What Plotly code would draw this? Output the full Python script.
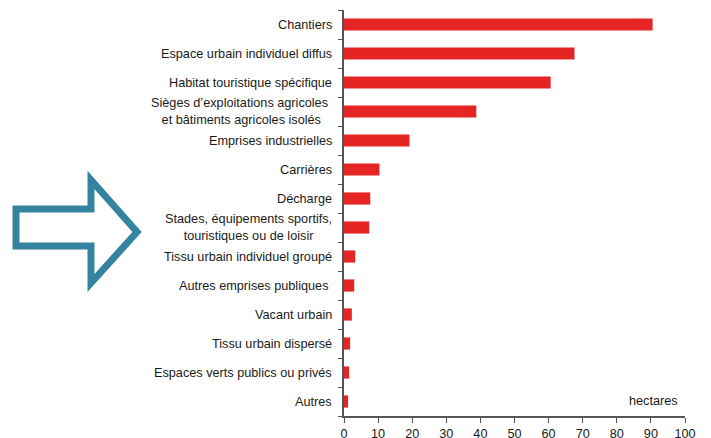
import plotly.graph_objects as go

categories = [
    "Chantiers",
    "Espace urbain individuel diffus",
    "Habitat touristique spécifique",
    "Sièges d’exploitations agricoles <br>et bâtiments agricoles isolés",
    "Emprises industrielles",
    "Carrières",
    "Décharge",
    "Stades, équipements sportifs,<br>touristiques ou de loisir",
    "Tissu urbain individuel groupé",
    "Autres emprises publiques ",
    "Vacant urbain",
    "Tissu urbain dispersé",
    "Espaces verts publics ou privés",
    "Autres",
]
values = [90.5, 67.6, 60.6, 38.8, 19.2, 10.4, 7.7, 7.4, 3.3, 3.0, 2.3, 1.8, 1.5, 1.2]
x_ticks = [0, 10, 20, 30, 40, 50, 60, 70, 80, 90, 100]
unit_label = "hectares"

W, H = 711, 438
OFF = 8  # page body margin offset
ML, MT = 344 - OFF, 10 - OFF
PW, PH = 341, 406
MR = W - ML - PW
MB = H - MT - PH

def px(x):
    return (x - OFF - ML) / PW

def py(y):
    return (MT + PH - (y - OFF)) / PH

FONT = "Liberation Sans, Arial, sans-serif"
FS = 12.7

fig = go.Figure()
fig.add_trace(go.Bar(
    y=categories, x=values, orientation="h",
    marker=dict(color="#e42524", line=dict(width=0)),
    width=0.42,
))

annotations = []
for c in categories:
    annotations.append(dict(
        x=0, xref="paper", y=c, yref="y", text=c, showarrow=False,
        xanchor="right", align="center", xshift=-10,
        font=dict(family=FONT, size=FS, color="#1a1a1a"),
    ))
annotations.append(dict(
    x=98.6, xref="x", y=categories[-1], yref="y", text=unit_label,
    showarrow=False, xanchor="right", yanchor="middle", yshift=1,
    font=dict(family=FONT, size=FS, color="#1a1a1a"),
))

arrow_pts = [(16, 209), (91, 209), (91, 180), (137, 232), (91, 283), (91, 246), (16, 246)]
path = "M " + " L ".join(f"{px(x):.5f},{py(y):.5f}" for x, y in arrow_pts) + " Z"

fig.update_layout(
    width=W, height=H,
    margin=dict(l=ML, r=MR, t=MT, b=MB, pad=0),
    paper_bgcolor="white", plot_bgcolor="white",
    showlegend=False,
    font=dict(family=FONT, size=FS, color="#1a1a1a"),
    annotations=annotations,
    shapes=[dict(type="path", xref="paper", yref="paper", path=path,
                 line=dict(color="#3483a0", width=7), fillcolor="rgba(0,0,0,0)",
                 layer="above")],
    xaxis=dict(range=[0, 100], tickvals=x_ticks, showgrid=False, zeroline=False,
               showline=True, linecolor="#555", linewidth=1.5,
               ticks="outside", ticklen=5, tickcolor="#555", tickwidth=1.2,
               tickfont=dict(size=FS, color="#1a1a1a")),
    yaxis=dict(categoryorder="array", categoryarray=categories[::-1],
               range=[-0.5, len(categories) - 0.5],
               showgrid=False, zeroline=False, showticklabels=False,
               showline=True, linecolor="#555", linewidth=1.5,
               ticks="outside", ticklen=4, tickcolor="#555", tickwidth=1.2,
               tickson="boundaries"),
)

fig.write_html("out.html")
